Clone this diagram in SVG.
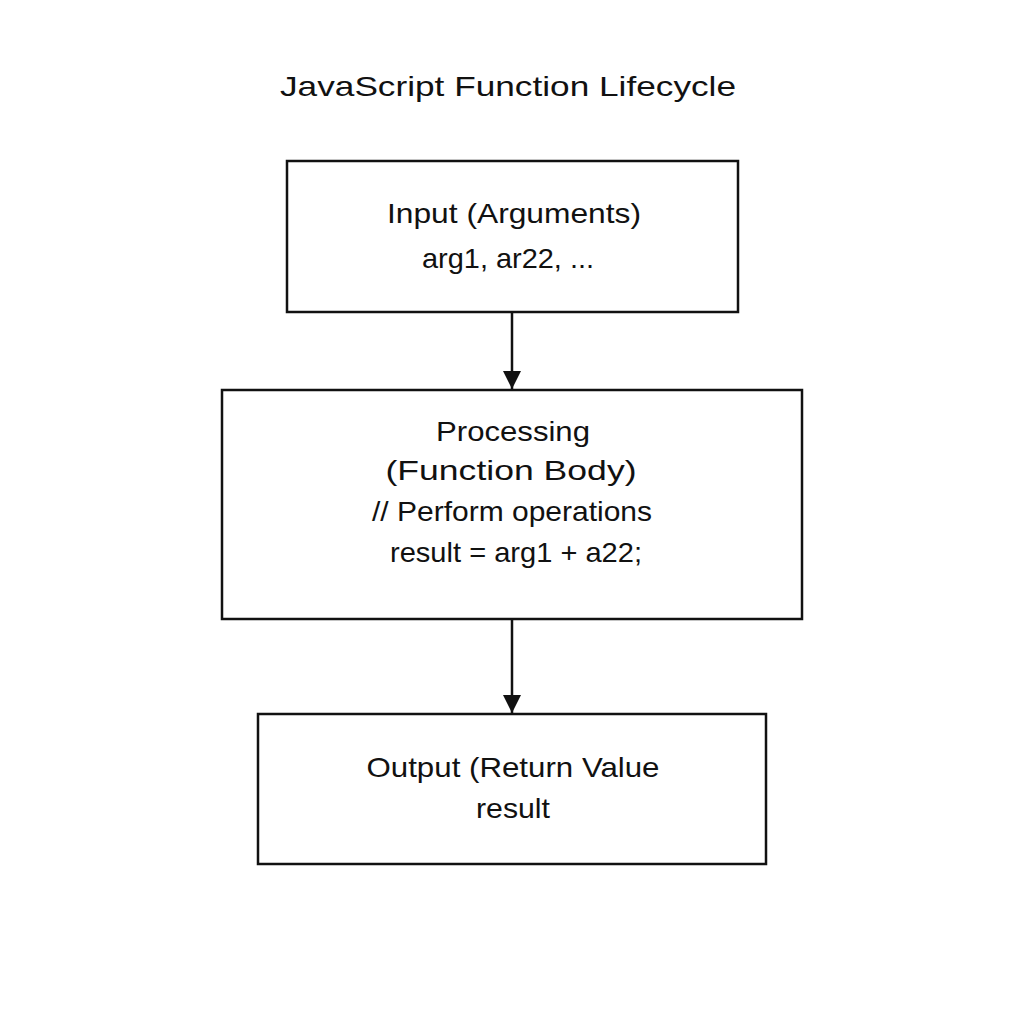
<svg xmlns="http://www.w3.org/2000/svg" width="1024" height="1024" viewBox="0 0 1024 1024">
<style>
.box{fill:#fff;stroke:#111;stroke-width:2.5}
text{font-family:"Liberation Sans",Arial,sans-serif;fill:#111;text-anchor:middle;font-size:28px;lengthAdjust:spacingAndGlyphs}
.c{stroke:#111;stroke-width:2.5;fill:none}
</style>
<defs><marker id="a" markerWidth="18" markerHeight="20" refX="18" refY="9" orient="auto" markerUnits="userSpaceOnUse" viewBox="0 0 18 18"><path d="M0,0 L18,9 L0,18z" fill="#111"/></marker></defs>
<rect width="1024" height="1024" fill="#fff"/>
<text x="508" y="96" font-size="32" textLength="456" lengthAdjust="spacingAndGlyphs">JavaScript Function Lifecycle</text>
<g id="input"><rect class="box" x="287" y="161" width="451" height="151"/>
<text x="514" y="223" textLength="254" lengthAdjust="spacingAndGlyphs">Input (Arguments)</text><text x="508" y="268" textLength="172" lengthAdjust="spacingAndGlyphs">arg1, ar22, ...</text></g>
<g id="processing"><rect class="box" x="222" y="390" width="580" height="229"/>
<text x="513" y="441" textLength="154" lengthAdjust="spacingAndGlyphs">Processing</text><text x="511" y="480" textLength="251" lengthAdjust="spacingAndGlyphs">(Function Body)</text>
<text x="512" y="521" textLength="280" lengthAdjust="spacingAndGlyphs">// Perform operations</text><text x="516" y="562" textLength="252" lengthAdjust="spacingAndGlyphs">result = arg1 + a22;</text></g>
<g id="output"><rect class="box" x="258" y="714" width="508" height="150"/>
<text x="513" y="777" textLength="293" lengthAdjust="spacingAndGlyphs">Output (Return Value</text><text x="513" y="818" textLength="74" lengthAdjust="spacingAndGlyphs">result</text></g>
<g id="connectors">
<line class="c" x1="512" y1="312" x2="512" y2="389" marker-end="url(#a)"/>
<line class="c" x1="512" y1="619" x2="512" y2="713" marker-end="url(#a)"/>
</g>
</svg>
